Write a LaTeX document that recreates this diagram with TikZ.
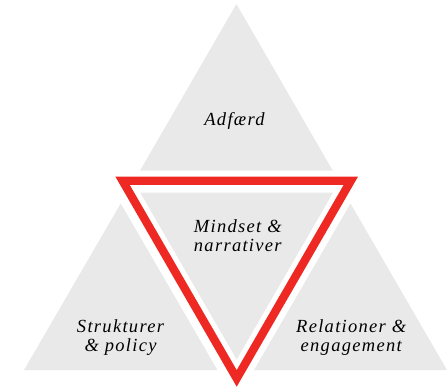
\documentclass[tikz,border=0pt]{standalone}
\usepackage{fontspec}
\setmainfont{Liberation Serif}
\newfontfamily\lblfont[LetterSpace=7]{Liberation Serif}
\definecolor{trigray}{RGB}{233,233,233}
\definecolor{trired}{RGB}{238,40,35}
\tikzset{
  tri/.style={fill=trigray, draw=none},
  redtri/.style={draw=trired, line width=8.3pt, miter limit=10, line join=miter},
  lbl/.style={font=\lblfont\itshape\fontsize{18.5}{18.7}\selectfont, align=center, inner sep=0pt, anchor=base, text=black}
}
\begin{document}
\begin{tikzpicture}[x=1pt,y=-1pt]
\useasboundingbox (0,0) rectangle (447,387);
% triangles
\fill[tri] (140,170.7) -- (332.8,170.7) -- (236.4,4) -- cycle;
\fill[tri] (24,370) -- (217.4,370) -- (120.7,203.5) -- cycle;
\fill[tri] (254,370) -- (447,370) -- (350.5,203.5) -- cycle;
\fill[tri] (140.3,192.7) -- (333,192.7) -- (236.7,359.5) -- cycle;
% red triangle
\coordinate (r1) at (122.6,180.85);
\coordinate (r2) at (350.8,180.85);
\coordinate (r3) at (236.7,378.4);
\draw[redtri] (r1) -- (r2) -- (r3) -- cycle;
% labels
\node[lbl] (top) at (234.5,125.3) {Adfærd};
\node[lbl] (mid) at (237.8,251.7) {Mindset \&\\narrativer};
\node[lbl] (left) at (120.5,351) {Strukturer\\\& policy};
\node[lbl] (right) at (351.2,351) {Relationer \&\\engagement};
\end{tikzpicture}
\end{document}
